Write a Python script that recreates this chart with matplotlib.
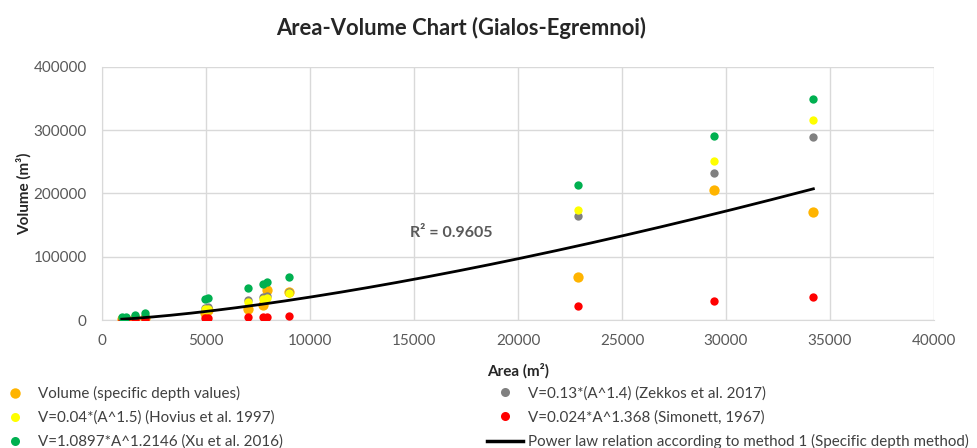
import matplotlib
matplotlib.use("Agg")
import matplotlib.pyplot as plt
from matplotlib.lines import Line2D
import numpy as np

plt.rcParams['font.family'] = ['Lato', 'DejaVu Sans']

# ---- data ----
areas = [950, 1150, 1600, 2050, 4950, 5100, 7000, 7750, 7950, 9000, 22900, 29400, 34200]
vol_specific = [1200, 1600, 2600, 3600, 11500, 15500, 17500, 23500, 47500, 44000, 68000, 206000, 171000]
vol_zekkos = [1900, 2500, 4000, 5600, 19500, 20500, 32000, 36500, 37500, 45000, 165000, 233000, 289000]
vol_hovius = [1500, 1900, 3200, 4600, 17000, 18000, 28500, 33500, 35000, 42500, 174000, 251000, 316000]
vol_simonett = [300, 400, 600, 900, 2700, 2800, 4800, 5100, 5300, 6200, 21500, 30000, 37000]
vol_xu = [4500, 5500, 8500, 11500, 33000, 34500, 51000, 57500, 60000, 68500, 214000, 291000, 350000]

trend_a = 0.0756
trend_b = 1.42
r2_text = "R² = 0.9605"

labels = {
    'specific': "Volume (specific depth values)",
    'zekkos': "V=0.13*(A^1.4) (Zekkos et al. 2017)",
    'hovius': "V=0.04*(A^1.5) (Hovius et al. 1997)",
    'simonett': "V=0.024*A^1.368 (Simonett, 1967)",
    'xu': "V=1.0897*A^1.2146 (Xu et al. 2016)",
    'trend': "Power law relation according to method 1 (Specific depth method)",
}

c_orange = '#FFB400'
c_gray = '#808080'
c_yellow = '#FFFF00'
c_red = '#FF0000'
c_green = '#00B050'

W, H = 978, 448
fig = plt.figure(figsize=(W/100, H/100), dpi=100)
ax = fig.add_axes([102/W, 1-320/H, (934-102)/W, (320-67)/H])

ax.scatter(areas, vol_specific, s=55, color=c_orange, zorder=3, linewidths=0)
ax.scatter(areas, vol_zekkos, s=36, color=c_gray, zorder=4, linewidths=0)
ax.scatter(areas, vol_hovius, s=36, color=c_yellow, zorder=5, linewidths=0)
ax.scatter(areas, vol_simonett, s=36, color=c_red, zorder=6, linewidths=0)
ax.scatter(areas, vol_xu, s=36, color=c_green, zorder=7, linewidths=0)

xt = np.linspace(min(areas), max(areas), 200)
ax.plot(xt, trend_a * xt ** trend_b, color='black', lw=2, zorder=8)

ax.text(14800, 137000, r2_text, fontsize=11.5, color='#595959', fontweight='bold',
        va='center', ha='left', zorder=9)

ax.set_xlim(0, 40000)
ax.set_ylim(0, 400000)
ax.set_xticks(np.arange(0, 40001, 5000))
ax.set_yticks(np.arange(0, 400001, 100000))
ax.grid(True, color='#D9D9D9', lw=1)
ax.set_axisbelow(True)
for s in ['top', 'right']:
    ax.spines[s].set_visible(False)
for s in ['left', 'bottom']:
    ax.spines[s].set_color('#D9D9D9')
ax.tick_params(axis='y', length=0, labelsize=11, colors='#595959', pad=11)
ax.tick_params(axis='x', length=0, labelsize=11, colors='#595959', pad=10)

ax.set_xlabel("Area (m²)", fontsize=11, fontweight='bold', color='#262626', labelpad=11)
ax.set_ylabel("Volume (m³)", fontsize=11, fontweight='bold', color='#262626', labelpad=1)

fig.text(461/W, 1-28/H, "Area-Volume Chart (Gialos-Egremnoi)", ha='center', va='center',
         fontsize=15.8, fontweight='bold', color='#262626')

def mk(c, ms):
    return Line2D([], [], marker='o', color='none', markerfacecolor=c, markeredgecolor='none', markersize=ms)

legkw = dict(loc='upper left', frameon=False, borderpad=0, borderaxespad=0,
             handletextpad=0.33, labelspacing=0.63,
             prop={'family': ['Lato', 'DejaVu Sans'], 'size': 10.9})

leg1 = fig.legend([mk(c_orange, 7.5), mk(c_yellow, 6.5), mk(c_green, 6.5)],
                  [labels['specific'], labels['hovius'], labels['xu']],
                  bbox_to_anchor=(-2/W, 1-386/H), handlelength=2.3, **legkw)
leg2 = fig.legend([mk(c_gray, 6.5), mk(c_red, 6.5), Line2D([], [], color='black', lw=2.5)],
                  [labels['zekkos'], labels['simonett'], labels['trend']],
                  bbox_to_anchor=(487/W, 1-386/H), handlelength=2.4, **legkw)
for leg in (leg1, leg2):
    for t in leg.get_texts():
        t.set_color('#404040')

fig.savefig("out.png", dpi=100)
